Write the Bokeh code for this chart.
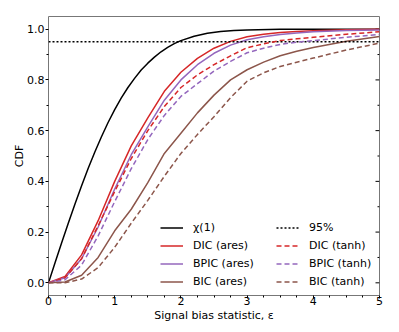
import math
from bokeh.plotting import figure
from bokeh.models import FixedTicker, Legend, LegendItem, Range1d, PrintfTickFormatter
from bokeh.embed import file_html
from bokeh.resources import INLINE

# ---- data ----
eps_chi = [0.0, 0.1, 0.2, 0.3, 0.4, 0.5, 0.6, 0.7, 0.8, 0.9, 1.0, 1.1, 1.2, 1.3, 1.4,
           1.5, 1.6, 1.7, 1.8, 1.9, 2.0, 2.2, 2.4, 2.6, 2.8, 3.0, 3.5, 4.0, 5.0]
cdf_chi = [0.0, 0.080, 0.159, 0.236, 0.311, 0.383, 0.452, 0.516, 0.576, 0.632, 0.683,
           0.729, 0.770, 0.806, 0.839, 0.866, 0.890, 0.911, 0.928, 0.943, 0.955, 0.972,
           0.984, 0.991, 0.995, 0.997, 0.9995, 1.0, 1.0]

eps = [0.0, 0.25, 0.5, 0.75, 1.0, 1.25, 1.5, 1.75, 2.0, 2.25, 2.5, 2.75, 3.0, 3.25,
       3.5, 3.75, 4.0, 4.5, 5.0]
dic_ares = [0.0, 0.025, 0.11, 0.245, 0.40, 0.54, 0.65, 0.755, 0.83, 0.885, 0.925, 0.952,
            0.970, 0.980, 0.987, 0.991, 0.994, 0.998, 1.0]
bpic_ares = [0.0, 0.02, 0.095, 0.22, 0.37, 0.505, 0.615, 0.72, 0.80, 0.86, 0.905, 0.937,
             0.958, 0.970, 0.979, 0.985, 0.990, 0.995, 0.997]
bic_ares = [0.0, 0.003, 0.03, 0.10, 0.205, 0.29, 0.395, 0.51, 0.59, 0.67, 0.74, 0.80,
            0.84, 0.87, 0.895, 0.913, 0.928, 0.952, 0.971]
dic_tanh = [0.0, 0.02, 0.095, 0.225, 0.36, 0.49, 0.60, 0.695, 0.77, 0.82, 0.86, 0.895,
            0.927, 0.942, 0.955, 0.962, 0.968, 0.980, 0.990]
bpic_tanh = [0.0, 0.012, 0.07, 0.185, 0.32, 0.45, 0.565, 0.66, 0.735, 0.785, 0.835, 0.873,
             0.907, 0.925, 0.940, 0.949, 0.955, 0.968, 0.979]
bic_tanh = [0.0, 0.0, 0.015, 0.06, 0.14, 0.235, 0.325, 0.42, 0.51, 0.585, 0.655, 0.73,
            0.795, 0.828, 0.853, 0.870, 0.886, 0.918, 0.945]

threshold = 0.95
x_limits = [0.0, 5.0]
y_limits = [-0.05, 1.05]
x_ticks = [0, 1, 2, 3, 4, 5]
x_minor = [0.25, 0.5, 0.75, 1.25, 1.5, 1.75, 2.25, 2.5, 2.75, 3.25, 3.5, 3.75,
           4.25, 4.5, 4.75]
y_ticks = [0.0, 0.2, 0.4, 0.6, 0.8, 1.0]
y_minor = [0.1, 0.3, 0.5, 0.7, 0.9]

labels_col1 = ["χ(1)", "DIC (ares)", "BPIC (ares)", "BIC (ares)"]
labels_col2 = ["95%", "DIC (tanh)", "BPIC (tanh)", "BIC (tanh)"]

RED = "#d62728"
PURPLE = "#9467bd"
BROWN = "#8c564b"
FONT = "DejaVu Sans"
FS = "11px"

p = figure(frame_width=331, frame_height=279, output_backend="svg", toolbar_location=None,
           x_range=Range1d(*x_limits), y_range=Range1d(*y_limits),
           min_border_left=48, min_border_right=10, min_border_top=16, min_border_bottom=28)
p.grid.visible = False
p.outline_line_color = "#777777"
p.outline_line_width = 1
p.background_fill_color = "white"
p.border_fill_color = "white"

p.xaxis.ticker = FixedTicker(ticks=x_ticks, minor_ticks=x_minor)
p.yaxis.ticker = FixedTicker(ticks=y_ticks, minor_ticks=y_minor)
p.yaxis.formatter = PrintfTickFormatter(format="%.1f")

for ax in [p.xaxis[0], p.yaxis[0]]:
    ax.axis_line_color = None
    ax.major_tick_in = 0
    ax.major_tick_out = 3
    ax.minor_tick_in = 0
    ax.minor_tick_out = 2
    ax.major_tick_line_color = "black"
    ax.minor_tick_line_color = "black"
    ax.major_label_text_font = FONT
    ax.major_label_text_font_size = FS
    ax.major_label_text_color = "black"
    ax.axis_label_text_font = FONT
    ax.axis_label_text_font_size = FS
    ax.axis_label_text_font_style = "normal"
    ax.axis_label_text_color = "black"

p.xaxis.axis_label = "Signal bias statistic, ε"
p.yaxis.axis_label = "CDF"
p.xaxis.major_label_standoff = -2
p.xaxis.axis_label_standoff = 1
p.yaxis.major_label_standoff = 1
p.yaxis.axis_label_standoff = -2

# inward ticks on the right edge of the frame
p.ray(x=[x_limits[1]] * len(y_ticks), y=y_ticks, length=4, length_units="screen",
      angle=math.pi, line_color="black", line_width=1)
p.ray(x=[x_limits[1]] * len(y_minor), y=y_minor, length=2, length_units="screen",
      angle=math.pi, line_color="black", line_width=1)

LW = 1.5
r_chi = p.line(eps_chi, cdf_chi, line_color="black", line_width=LW)
r_dic_a = p.line(eps, dic_ares, line_color=RED, line_width=LW)
r_bpic_a = p.line(eps, bpic_ares, line_color=PURPLE, line_width=LW)
r_bic_a = p.line(eps, bic_ares, line_color=BROWN, line_width=LW)
r_thr = p.line(x_limits, [threshold, threshold], line_color="black", line_width=LW,
               line_dash="2 2")
r_dic_t = p.line(eps, dic_tanh, line_color=RED, line_width=LW, line_dash="5 3")
r_bpic_t = p.line(eps, bpic_tanh, line_color=PURPLE, line_width=LW, line_dash="5 3")
r_bic_t = p.line(eps, bic_tanh, line_color=BROWN, line_width=LW, line_dash="5 3")

def make_legend(labels, rends, loc, standoff):
    lg = Legend(items=[LegendItem(label=l, renderers=[r]) for l, r in zip(labels, rends)],
                location=loc, orientation="vertical", background_fill_alpha=0,
                border_line_color=None, padding=0, margin=0, spacing=4,
                glyph_width=23, glyph_height=13, label_height=14,
                label_standoff=standoff, label_text_font=FONT,
                label_text_font_size=FS, label_text_color="black")
    return lg

p.add_layout(make_legend(labels_col1, [r_chi, r_dic_a, r_bpic_a, r_bic_a], (112, 7), 10), "center")
p.add_layout(make_legend(labels_col2, [r_thr, r_dic_t, r_bpic_t, r_bic_t], (228, 7), 10), "center")

open("out.html", "w").write(file_html(p, INLINE))
